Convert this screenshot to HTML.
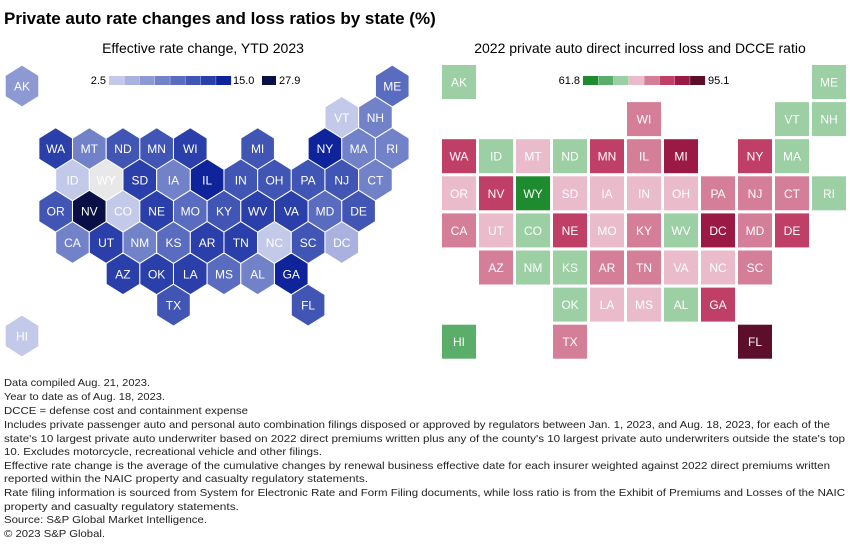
<!DOCTYPE html>
<html><head><meta charset="utf-8"><style>
html,body{margin:0;padding:0;background:#fff;}
svg{display:block;font-family:"Liberation Sans",sans-serif;}
</style></head><body>
<svg id="chart" width="850" height="557" viewBox="0 0 850 557">
<text x="4" y="24" font-size="17" font-weight="bold" fill="#000">Private auto rate changes and loss ratios by state (%)</text>
<text x="203" y="53" font-size="14" text-anchor="middle" fill="#000">Effective rate change, YTD 2023</text>
<text x="640" y="53" font-size="14" text-anchor="middle" fill="#000">2022 private auto direct incurred loss and DCCE ratio</text>
<g id="hexmap"></g>
<g id="gridmap"></g>
<g id="leg1"></g>
<g id="leg2"></g>
<g id="notes"></g>
</svg>
<script>
const NS="http://www.w3.org/2000/svg";
// Left hex map data
const hexStates=["AK","ME","VT","NH","WA","MT","ND","MN","WI","MI","NY","MA","RI","ID","WY","SD","IA","IL","IN","OH","PA","NJ","CT","OR","NV","CO","NE","MO","KY","WV","VA","MD","DE","CA","UT","NM","KS","AR","TN","NC","SC","DC","AZ","OK","LA","MS","AL","GA","TX","FL","HI"];
const hexCols=[0,22,19,21,2,4,6,8,10,14,18,20,22,3,5,7,9,11,13,15,17,19,21,2,4,6,8,10,12,14,16,18,20,3,5,7,9,11,13,15,17,19,6,8,10,12,14,16,9,17,0];
const hexRows=[0,0,1,1,2,2,2,2,2,2,2,2,2,3,3,3,3,3,3,3,3,3,3,4,4,4,4,4,4,4,4,4,4,5,5,5,5,5,5,5,5,5,6,6,6,6,6,6,7,7,8];
const rateValues=[7,10,4,8,13,8,11.5,11,12.5,11,14.5,8,8,3,null,12.5,8,14.5,11,11,11.5,11.5,8,11.5,27.9,3,12.5,9.5,11,12.5,12.5,9.5,11.5,8.5,12.5,8,9.5,12.5,12.5,4,11,4.5,12.5,12.5,12.5,9.5,8.5,14.5,11,11,3];
const rateMin=2.5, rateMax=15.0, rateTop=27.9;
const ratePalette=['#c3cae9','#a9b2de','#8d99d3','#7282c9','#5a6cbf','#4055b4','#2a3fa9','#0f239a'];
// Right grid map data
const gridStates=["AK","ME","WI","VT","NH","WA","ID","MT","ND","MN","IL","MI","NY","MA","OR","NV","WY","SD","IA","IN","OH","PA","NJ","CT","RI","CA","UT","CO","NE","MO","KY","WV","DC","MD","DE","AZ","NM","KS","AR","TN","VA","NC","SC","OK","LA","MS","AL","GA","HI","TX","FL"];
const gridCols=[0,10,5,9,10,0,1,2,3,4,5,6,8,9,0,1,2,3,4,5,6,7,8,9,10,0,1,2,3,4,5,6,7,8,9,1,2,3,4,5,6,7,8,3,4,5,6,7,0,3,8];
const gridRows=[0,0,1,1,1,2,2,2,2,2,2,2,2,2,3,3,3,3,3,3,3,3,3,3,3,4,4,4,4,4,4,4,4,4,4,5,5,5,5,5,5,5,5,6,6,6,6,6,7,7,7];
const lossValues=[72,72,80,72,72,85,72,76,72,85,80,89,85,72,76,85,63,76,76,76,76,80,80,80,72,80,76,72,85,76,80,72,89,80,85,80,72,72,80,80,76,76,80,72,76,76,72,85,68,80,94];
const lossMin=61.8, lossMax=95.1;
const lossPalette=['#1e8c2e','#5aae6a','#9ccfa4','#eabccb','#d47e98','#c03f67','#9a1a45','#5c0e2b'];

function rateColor(v){ if(v===null) return '#e8e8e8'; if(v>rateMax) return '#0a0f45';
  let b=Math.floor((v-rateMin)/((rateMax-rateMin)/8)); b=Math.max(0,Math.min(7,b)); return ratePalette[b];}
function lossColor(v){ let b=Math.floor((v-lossMin)/((lossMax-lossMin)/8)); b=Math.max(0,Math.min(7,b)); return lossPalette[b];}
function hx(c){return 22+c*16.83;}
function hy(r){return r<8?86+r*31.3:336;}
function gx(c){return 459+c*37;}
function gy(r){return 82+r*37.1;}
function mk(tag,attrs,parent){const e=document.createElementNS(NS,tag);for(const k in attrs)e.setAttribute(k,attrs[k]);parent.appendChild(e);return e;}

const hexG=document.getElementById('hexmap');
hexStates.forEach((s,i)=>{
  const cx=hx(hexCols[i]), cy=hy(hexRows[i]); const w=16.8,h=20.9,hs=10.4;
  const g=mk('g',{},hexG);
  
  
  const pts=[[cx,cy-h],[cx+w,cy-hs],[cx+w,cy+hs],[cx,cy+h],[cx-w,cy+hs],[cx-w,cy-hs]].map(p=>p.join(',')).join(' ');
  mk('polygon',{points:pts,fill:rateColor(rateValues[i]),stroke:'#fff','stroke-width':1},g);
  const t=mk('text',{x:cx,y:cy+4.5,'text-anchor':'middle','font-size':12,fill:'#fff'},g);t.textContent=s;
});

const gridG=document.getElementById('gridmap');
gridStates.forEach((s,i)=>{
  const cx=gx(gridCols[i]), cy=gy(gridRows[i]);
  const g=mk('g',{},gridG);
  
  
  mk('rect',{x:cx-17,y:cy-17,width:34,height:34,fill:lossColor(lossValues[i])},g);
  const t=mk('text',{x:cx,y:cy+4.5,'text-anchor':'middle','font-size':12,fill:'#fff'},g);t.textContent=s;
});

// legends
const l1=document.getElementById('leg1');
let t=mk('text',{x:106,y:84,'text-anchor':'end','font-size':11},l1);t.textContent=rateMin.toFixed(1);
ratePalette.forEach((c,i)=>{const r=mk('rect',{x:109+i*15.3,y:76,width:15,height:9,fill:c},l1);
  });
t=mk('text',{x:233,y:84,'font-size':11},l1);t.textContent=rateMax.toFixed(1);
mk('rect',{x:262,y:76,width:14,height:9,fill:'#0a0f45'},l1);
t=mk('text',{x:279,y:84,'font-size':11},l1);t.textContent=rateTop.toFixed(1);

const l2=document.getElementById('leg2');
t=mk('text',{x:580,y:84,'text-anchor':'end','font-size':11},l2);t.textContent=lossMin.toFixed(1);
lossPalette.forEach((c,i)=>{const r=mk('rect',{x:583+i*15.3,y:76,width:15,height:9,fill:c},l2);
  });
t=mk('text',{x:708,y:84,'font-size':11},l2);t.textContent=lossMax.toFixed(1);

// footnotes
const notes=[
["Data compiled Aug. 21, 2023.",382,146],
["Year to date as of Aug. 18, 2023.",396,161],
["DCCE = defense cost and containment expense",410,244],
["Includes private passenger auto and personal auto combination filings disposed or approved by regulators between Jan. 1, 2023, and Aug. 18, 2023, for each of the",424,826],
["state's 10 largest private auto underwriter based on 2022 direct premiums written plus any of the county's 10 largest private auto underwriters outside the state's top",438,841],
["10. Excludes motorcycle, recreational vehicle and other filings.",451,318],
["Effective rate change is the average of the cumulative changes by renewal business effective date for each insurer weighted against 2022 direct premiums written",465,826],
["reported within the NAIC property and casualty regulatory statements.",478,364],
["Rate filing information is sourced from System for Electronic Rate and Form Filing documents, while loss ratio is from the Exhibit of Premiums and Losses of the NAIC",492,841],
["property and casualty regulatory statements.",506,235],
["Source: S&P Global Market Intelligence.",519,203],
["\u00a9 2023 S&P Global.",533,101]];
const ng=document.getElementById('notes');
notes.forEach(n=>{const e=mk('text',{x:4,y:n[1]+4,'font-size':10.5,fill:'#222',textLength:n[2],lengthAdjust:'spacingAndGlyphs'},ng);
  e.textContent=n[0];});
</script>
</body></html>
